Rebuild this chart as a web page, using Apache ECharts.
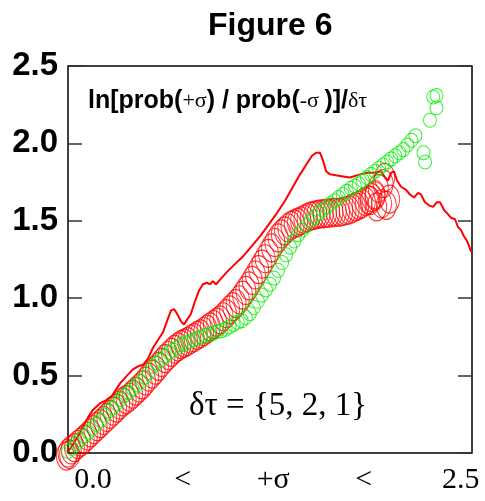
<!DOCTYPE html>
<html>
<head>
<meta charset="utf-8">
<script src="https://cdn.jsdelivr.net/npm/echarts@6/dist/echarts.min.js"></script>
<style>
  html, body { margin: 0; padding: 0; background: #fff; }
  #main { width: 485px; height: 501px; }
</style>
</head>
<body>
<div id="main"></div>
<script>
// y axis ticks
var yTicks = [0, 0.5, 1.0, 1.5, 2.0, 2.5];
// x axis "labels" (the original shows a range instead of numbers)
var xTickLabels = ['0.0', '<', '+σ', '<', '2.5'];
var xTickPos = [0.155, 0.71, 1.27, 1.83, 2.43];

// thin red line
var redLineX = [0.00, 0.025, 0.062, 0.093, 0.124, 0.155, 0.198, 0.235, 0.272, 0.322, 0.365, 0.402, 0.433, 0.464, 0.495,
  0.526, 0.557, 0.588, 0.619, 0.637, 0.656, 0.675, 0.699, 0.718, 0.736, 0.761, 0.786, 0.811, 0.835, 0.860,
  0.879, 0.897, 0.916, 0.941, 0.984, 1.033, 1.083, 1.132, 1.188, 1.238, 1.293, 1.343, 1.392, 1.436, 1.479,
  1.510, 1.535, 1.559, 1.578, 1.597, 1.621, 1.683, 1.745, 1.807, 1.850, 1.900, 1.937, 1.962, 1.980, 1.999,
  2.017, 2.036, 2.061, 2.092, 2.116, 2.141, 2.166, 2.184, 2.209, 2.234, 2.259, 2.283, 2.302, 2.327, 2.345,
  2.370, 2.395, 2.413, 2.432, 2.450, 2.469, 2.481, 2.494];
var redLineY = [0.01, 0.045, 0.11, 0.17, 0.23, 0.28, 0.32, 0.34, 0.37, 0.45, 0.50, 0.54, 0.56, 0.57, 0.61,
  0.68, 0.73, 0.78, 0.87, 0.92, 0.93, 0.90, 0.85, 0.83, 0.86, 0.90, 0.98, 1.05, 1.09, 1.10,
  1.09, 1.11, 1.09, 1.12, 1.17, 1.22, 1.27, 1.33, 1.40, 1.47, 1.55, 1.63, 1.72, 1.80, 1.87,
  1.92, 1.94, 1.94, 1.89, 1.82, 1.80, 1.79, 1.78, 1.80, 1.81, 1.81, 1.82, 1.78, 1.76, 1.81,
  1.82, 1.76, 1.72, 1.70, 1.67, 1.65, 1.68, 1.67, 1.62, 1.60, 1.59, 1.62, 1.62, 1.57, 1.55,
  1.52, 1.51, 1.46, 1.44, 1.40, 1.37, 1.34, 1.30];

// big red rings (dense band) plus the loose ones at its end
var redDotX = [
  0.00, 0.02, 0.04, 0.06, 0.08, 0.10, 0.12, 0.14, 0.16, 0.18,
  0.20, 0.22, 0.24, 0.26, 0.28, 0.30, 0.32, 0.34, 0.36, 0.38,
  0.40, 0.42, 0.44, 0.46, 0.48, 0.50, 0.52, 0.54, 0.56, 0.58,
  0.60, 0.62, 0.64, 0.66, 0.68, 0.70, 0.72, 0.74, 0.76, 0.78,
  0.80, 0.82, 0.84, 0.86, 0.88, 0.90, 0.92, 0.94, 0.96, 0.98,
  1.00, 1.02, 1.04, 1.06, 1.08, 1.10, 1.12, 1.14, 1.16, 1.18,
  1.20, 1.22, 1.24, 1.26, 1.28, 1.30, 1.32, 1.34, 1.36, 1.38,
  1.40, 1.42, 1.44, 1.46, 1.48, 1.50, 1.52, 1.54, 1.56, 1.58,
  1.60, 1.62, 1.64, 1.66, 1.68, 1.70, 1.72, 1.74, 1.76, 1.78,
  1.80, 1.82, 1.84, 1.86, 1.88, 1.90,
  -0.01, 0.01, 1.87, 1.90, 1.92, 1.94, 1.91, 1.95, 1.96, 1.97, 1.99];
var redDotY = [
  0.00, 0.02, 0.035, 0.055, 0.07, 0.09, 0.11, 0.13, 0.15, 0.17,
  0.19, 0.21, 0.23, 0.25, 0.27, 0.29, 0.31, 0.33, 0.345, 0.36,
  0.38, 0.40, 0.42, 0.44, 0.465, 0.49, 0.51, 0.535, 0.56, 0.585,
  0.61, 0.63, 0.65, 0.67, 0.685, 0.70, 0.71, 0.72, 0.735, 0.745,
  0.76, 0.77, 0.785, 0.80, 0.815, 0.83, 0.845, 0.86, 0.88, 0.90,
  0.925, 0.945, 0.965, 0.99, 1.02, 1.05, 1.08, 1.115, 1.15, 1.185,
  1.22, 1.255, 1.29, 1.325, 1.36, 1.39, 1.415, 1.435, 1.455, 1.47,
  1.48, 1.49, 1.50, 1.51, 1.52, 1.53, 1.535, 1.54, 1.545, 1.545,
  1.55, 1.55, 1.555, 1.555, 1.555, 1.56, 1.565, 1.57, 1.58, 1.59,
  1.60, 1.61, 1.625, 1.635, 1.65, 1.66,
  -0.02, -0.01, 1.63, 1.67, 1.71, 1.61, 1.59, 1.74, 1.78, 1.60, 1.64];

// green rings
var greenX = [0.000, 0.025, 0.050, 0.075, 0.100, 0.125, 0.150, 0.175, 0.200, 0.225, 0.250, 0.275, 0.300, 0.325,
  0.350, 0.375, 0.400, 0.425, 0.450, 0.475, 0.500, 0.525, 0.550, 0.575, 0.600, 0.625, 0.650, 0.675,
  0.700, 0.725, 0.750, 0.775, 0.800, 0.825, 0.850, 0.875, 0.900, 0.925, 0.950, 0.975, 1.000, 1.025,
  1.050, 1.075, 1.100, 1.125, 1.150, 1.175, 1.200, 1.225, 1.250, 1.275, 1.300, 1.325, 1.350, 1.375,
  1.400, 1.425, 1.450, 1.475, 1.500, 1.525, 1.550, 1.575, 1.600, 1.625, 1.650, 1.675, 1.700, 1.725,
  1.750, 1.775, 1.800, 1.825, 1.850, 1.875, 1.900, 1.925, 1.950, 1.975, 2.000, 2.025, 2.050, 2.075,
  2.100, 2.125, 2.150,
  2.20, 2.21, 2.24, 2.28, 2.26, 2.28];
var greenY = [0.01, 0.03, 0.06, 0.085, 0.11, 0.135, 0.16, 0.185, 0.21, 0.245, 0.27, 0.29, 0.32, 0.345,
  0.37, 0.39, 0.415, 0.44, 0.46, 0.49, 0.52, 0.56, 0.58, 0.60, 0.625, 0.65, 0.665, 0.68,
  0.70, 0.71, 0.72, 0.73, 0.74, 0.75, 0.76, 0.765, 0.775, 0.785, 0.79, 0.80, 0.815, 0.83,
  0.845, 0.855, 0.875, 0.90, 0.94, 0.98, 1.02, 1.055, 1.09, 1.13, 1.18, 1.23, 1.28, 1.33,
  1.37, 1.41, 1.44, 1.47, 1.50, 1.525, 1.55, 1.57, 1.59, 1.61, 1.63, 1.65, 1.67, 1.69,
  1.71, 1.725, 1.74, 1.76, 1.78, 1.80, 1.82, 1.84, 1.86, 1.88, 1.90, 1.92, 1.94, 1.96,
  1.99, 2.02, 2.05,
  1.94, 1.88, 2.15, 2.23, 2.30, 2.31];

function pairs(xs, ys) {
  return xs.map(function (x, i) { return [x, ys[i]]; });
}

var myChart = echarts.init(document.getElementById('main'));

var sans = 'Liberation Sans, Arial, sans-serif';
var serif = 'Liberation Serif, Times New Roman, serif';

myChart.setOption({
  animation: false,
  title: {
    text: 'Figure 6',
    left: 203,
    top: 5,
    textStyle: { fontFamily: sans, fontWeight: 'bold', fontSize: 32, color: '#000' }
  },
  grid: {
    left: 68, right: 13, top: 66, bottom: 48,
    show: true, borderColor: '#000', borderWidth: 1.5
  },
  xAxis: {
    type: 'value',
    min: 0, max: 2.5,
    axisLine: { show: false },
    axisTick: { show: false },
    splitLine: { show: false },
    axisLabel: {
      customValues: xTickPos,
      formatter: function (v) {
        var i = xTickPos.indexOf(v);
        return i >= 0 ? xTickLabels[i] : '';
      },
      fontFamily: serif, fontSize: 30, color: '#000', margin: 12
    }
  },
  yAxis: [{
    type: 'value',
    min: 0, max: 2.5, interval: 0.5,
    axisLine: { show: false },
    axisTick: { show: true, inside: true, length: 14, lineStyle: { color: '#333', width: 1.5 } },
    splitLine: { show: false },
    axisLabel: {
      formatter: function (v) { return v.toFixed(1); },
      fontFamily: sans, fontWeight: 'bold', fontSize: 33, color: '#000', margin: 10
    }
  }, {
    type: 'value',
    position: 'right',
    min: 0, max: 2.5, interval: 0.5,
    axisLine: { show: false },
    axisTick: { show: true, inside: true, length: 14, lineStyle: { color: '#333', width: 1.5 } },
    splitLine: { show: false },
    axisLabel: { show: false }
  }],
  series: [{
    name: 'line',
    type: 'line',
    data: pairs(redLineX, redLineY),
    showSymbol: false,
    lineStyle: { color: '#ff0000', width: 2 },
    z: 2
  }, {
    name: 'red',
    type: 'scatter',
    data: pairs(redDotX, redDotY),
    symbol: 'circle',
    symbolSize: [20, 28],
    clip: false,
    itemStyle: { color: 'rgba(0,0,0,0)', borderColor: '#ff0000', borderWidth: 1 },
    z: 3
  }, {
    name: 'green',
    type: 'scatter',
    data: pairs(greenX, greenY),
    symbol: 'circle',
    symbolSize: [13, 14],
    clip: false,
    itemStyle: { color: 'rgba(0,0,0,0)', borderColor: '#00ee00', borderWidth: 1 },
    z: 4
  }],
  graphic: [{
    type: 'text',
    left: 88,
    top: 89,
    style: {
      text: '{b|ln[prob(}{s|+σ}{b|) / prob(}{s|-σ }{b|)]/}{s|δτ}',
      rich: {
        b: { fontFamily: sans, fontWeight: 'bold', fontSize: 25, fill: '#000' },
        s: { fontFamily: serif, fontSize: 22, fill: '#000' }
      }
    }
  }, {
    type: 'text',
    left: 189,
    top: 390,
    style: {
      text: 'δτ = {5, 2, 1}',
      font: '33px Liberation Serif, Times New Roman, serif',
      fill: '#000'
    }
  }]
});
</script>
</body>
</html>
